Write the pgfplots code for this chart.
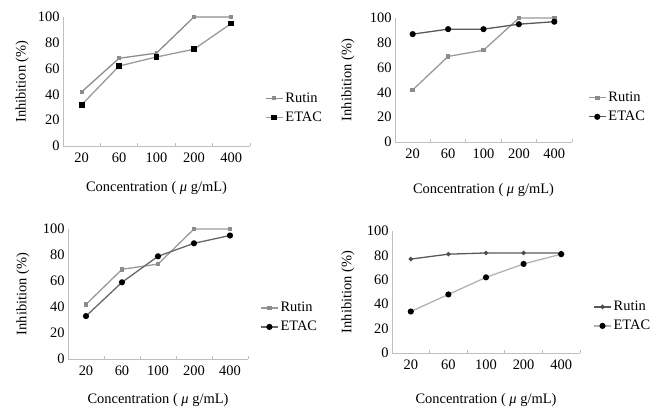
\documentclass[border=0pt]{standalone}
\usepackage{fontspec}
\setmainfont{Liberation Serif}
\usepackage{pgfplots}
\pgfplotsset{compat=1.18}

\pgfplotsset{
  panel/.style={
    scale only axis, clip=false,
    xmin=-0.5, xmax=4.5, ymin=0, ymax=100,
    xtick={0,...,4}, xticklabels={20,60,100,200,400},
    minor xtick={-0.5,0.5,...,4.5},
    ytick={0,20,...,100},
    axis x line=bottom, axis y line=left,
    axis line style={black!25, line width=0.9pt, -},
    major tick length=0pt, minor tick length=3pt,
    tick align=inside, minor tick style={black!25, line width=0.8pt},
    /pgf/number format/assume math mode=true,
    tick label style={font=\fontsize{14.5}{16}\selectfont},
    xticklabel style={yshift=-3pt},
    label style={font=\fontsize{14.5}{16}\selectfont},
    xlabel={Concentration ( \textit{μ} g/mL)},
    ylabel={Inhibition (\%)},
    legend style={draw=none, fill=none, inner sep=0pt, row sep=4pt,
      font=\fontsize{14.5}{16}\selectfont, anchor=west},
    legend cell align=left,
  },
  rut/.style={line width=1.3pt, mark=square*, mark size=1.6pt,
    mark options={fill=black!45, draw=black!45}},
  etac/.style={line width=1.3pt, mark=*, mark size=2.4pt,
    mark options={fill=black, draw=black}},
}

\begin{document}
\begin{tikzpicture}
\useasboundingbox (0,0) rectangle (650bp,407bp);

% top left
\begin{axis}[panel, at={(63bp,261bp)}, anchor=south west,
  width=187bp, height=129bp,
  xlabel style={at={(axis description cs:0.5,-0.326)}, anchor=center},
  ylabel style={at={(axis description cs:-0.219,0.5)}, anchor=center},
  legend style={at={(1.08,0.295)}}]
\addplot[rut, black!45, mark size=1.3pt] coordinates {(0,42) (1,68) (2,72) (3,100) (4,100)};
\addplot[etac, black!40, mark=square*, mark size=2.2pt] coordinates {(0,32) (1,62) (2,69) (3,75) (4,95)};
\legend{Rutin, ETAC}
\end{axis}

% top right
\begin{axis}[panel, at={(395bp,265bp)}, anchor=south west,
  width=177bp, height=124bp,
  xlabel style={at={(axis description cs:0.5,-0.387)}, anchor=center},
  ylabel style={at={(axis description cs:-0.266,0.5)}, anchor=center},
  legend style={at={(1.09,0.28)}}]
\addplot[rut, black!40] coordinates {(0,42) (1,69) (2,74) (3,100) (4,100)};
\addplot[etac, black!65] coordinates {(0,87) (1,91) (2,91) (3,95) (4,97)};
\legend{Rutin, ETAC}
\end{axis}

% bottom left
\begin{axis}[panel, at={(68bp,48bp)}, anchor=south west,
  width=180bp, height=130bp,
  xlabel style={at={(axis description cs:0.5,-0.315)}, anchor=center},
  ylabel style={at={(axis description cs:-0.25,0.5)}, anchor=center},
  legend style={at={(1.067,0.32)}}]
\addplot[rut, black!40] coordinates {(0,42) (1,69) (2,73) (3,100) (4,100)};
\addplot[etac, black!60] coordinates {(0,33) (1,59) (2,79) (3,89) (4,95)};
\legend{Rutin, ETAC}
\end{axis}

% bottom right
\begin{axis}[panel, at={(392bp,54bp)}, anchor=south west,
  width=188bp, height=122bp,
  xlabel style={at={(axis description cs:0.5,-0.385)}, anchor=center},
  ylabel style={at={(axis description cs:-0.234,0.5)}, anchor=center},
  legend style={at={(1.07,0.30)}}]
\addplot[line width=1.3pt, black!65, mark=*, mark size=1.5pt,
  mark options={fill=black!70, draw=black!70}] coordinates {(0,77) (1,81) (2,82) (3,82) (4,82)};
\addplot[etac, black!30] coordinates {(0,34) (1,48) (2,62) (3,73) (4,81)};
\legend{Rutin, ETAC}
\end{axis}
\end{tikzpicture}
\end{document}
